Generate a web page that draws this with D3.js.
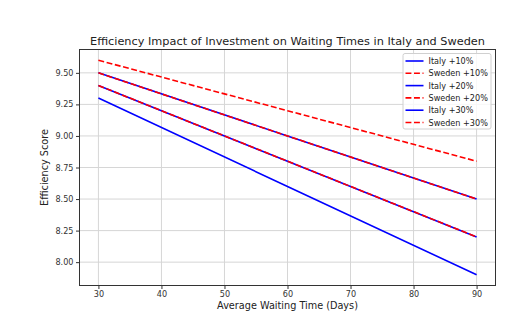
<!DOCTYPE html>
<html>
<head>
<meta charset="utf-8">
<script src="https://cdn.jsdelivr.net/npm/d3@7"></script>
<style>
  body { margin: 0; background: #fff; }
  text { font-family: "DejaVu Sans", sans-serif; }
</style>
</head>
<body>
<div id="chart"></div>
<script>
// Waiting times (days) and efficiency scores
const waitingDays = [30, 60, 90];
const italy10 = [9.3, 8.6, 7.9];
const italy20 = [9.4, 8.8, 8.2];
const italy30 = [9.5, 9.0, 8.5];
const sweden10 = [9.4, 8.8, 8.2];
const sweden20 = [9.5, 9.0, 8.5];
const sweden30 = [9.6, 9.2, 8.8];
const xTicks = [30, 40, 50, 60, 70, 80, 90];
const yTicks = [8.0, 8.25, 8.5, 8.75, 9.0, 9.25, 9.5];

const series = [
    { name: "Italy +10%", values: italy10, country: "Italy" },
    { name: "Sweden +10%", values: sweden10, country: "Sweden" },
    { name: "Italy +20%", values: italy20, country: "Italy" },
    { name: "Sweden +20%", values: sweden20, country: "Sweden" },
    { name: "Italy +30%", values: italy30, country: "Italy" },
    { name: "Sweden +30%", values: sweden30, country: "Sweden" }
];

const width = 515;
const height = 327;
const margin = { top: 49.5, right: 19.5, bottom: 41.5, left: 79.5 };
const plotWidth = width - margin.left - margin.right;
const plotHeight = height - margin.top - margin.bottom;

const svg = d3.select("#chart")
    .append("svg")
    .attr("width", width)
    .attr("height", height);

const g = svg.append("g")
    .attr("transform", `translate(${margin.left},${margin.top})`);

const x = d3.scaleLinear().domain([27, 93]).range([0, plotWidth]);
const y = d3.scaleLinear().domain([7.815, 9.685]).range([plotHeight, 0]);

const color = { Italy: "#0000ff", Sweden: "#ff0000" };

// Grid
g.append("g")
    .selectAll("line")
    .data(xTicks)
    .join("line")
    .attr("x1", d => x(d)).attr("x2", d => x(d))
    .attr("y1", 0).attr("y2", plotHeight)
    .attr("stroke", "#d6d6d6").attr("stroke-width", 1);

g.append("g")
    .selectAll("line")
    .data(yTicks)
    .join("line")
    .attr("x1", 0).attr("x2", plotWidth)
    .attr("y1", d => y(d)).attr("y2", d => y(d))
    .attr("stroke", "#d6d6d6").attr("stroke-width", 1);

// Lines: Italy first, Sweden dashes on top
const line = d3.line()
    .x((d, i) => x(waitingDays[i]))
    .y(d => y(d));

const drawOrder = series.filter(s => s.country === "Italy")
    .concat(series.filter(s => s.country === "Sweden"));

drawOrder.forEach(s => {
    g.append("path")
        .datum(s.values)
        .attr("fill", "none")
        .attr("stroke", color[s.country])
        .attr("stroke-width", 1.6)
        .attr("stroke-dasharray", s.country === "Sweden" ? "5.9,2.6" : null)
        .attr("d", line);
});

// Axes
const xAxis = g.append("g")
    .attr("transform", `translate(0,${plotHeight})`)
    .call(d3.axisBottom(x).tickValues(xTicks).tickSize(3.5).tickPadding(2.5).tickFormat(d3.format("d")));

const yAxis = g.append("g")
    .call(d3.axisLeft(y).tickValues(yTicks).tickSize(3.5).tickPadding(2.5).tickFormat(d3.format(".2f")));

[xAxis, yAxis].forEach(ax => {
    ax.select(".domain").remove();
    ax.selectAll("line").attr("stroke", "#333");
    ax.selectAll("text").attr("fill", "#333").style("font-size", "8.1px");
});

// Frame
g.append("rect")
    .attr("width", plotWidth)
    .attr("height", plotHeight)
    .attr("fill", "none")
    .attr("stroke", "#333")
    .attr("stroke-width", 1);

// Title and labels
svg.append("text")
    .attr("x", margin.left + plotWidth / 2)
    .attr("y", 45)
    .attr("text-anchor", "middle")
    .attr("fill", "#222")
    .style("font-size", "11.3px")
    .text("Efficiency Impact of Investment on Waiting Times in Italy and Sweden");

svg.append("text")
    .attr("x", margin.left + plotWidth / 2)
    .attr("y", 309)
    .attr("text-anchor", "middle")
    .attr("fill", "#222")
    .style("font-size", "9.7px")
    .text("Average Waiting Time (Days)");

svg.append("text")
    .attr("transform", `translate(48,${margin.top + plotHeight / 2}) rotate(-90)`)
    .attr("text-anchor", "middle")
    .attr("fill", "#222")
    .style("font-size", "9.7px")
    .text("Efficiency Score");

// Legend
const legend = svg.append("g")
    .attr("transform", "translate(403,53.5)");

legend.append("rect")
    .attr("width", 88)
    .attr("height", 75.5)
    .attr("rx", 2)
    .attr("fill", "#fff")
    .attr("fill-opacity", 0.8)
    .attr("stroke", "#d0d0d0");

series.forEach((s, i) => {
    const row = legend.append("g")
        .attr("transform", `translate(0,${7.5 + i * 12.3})`);

    row.append("line")
        .attr("x1", 2.5).attr("x2", 20.5)
        .attr("stroke", color[s.country])
        .attr("stroke-width", 1.6)
        .attr("stroke-dasharray", s.country === "Sweden" ? "5.9,2.6" : null);

    row.append("text")
        .attr("x", 25.5)
        .attr("y", 3)
        .attr("fill", "#222")
        .style("font-size", "8.1px")
        .text(s.name);
});
</script>
</body>
</html>
